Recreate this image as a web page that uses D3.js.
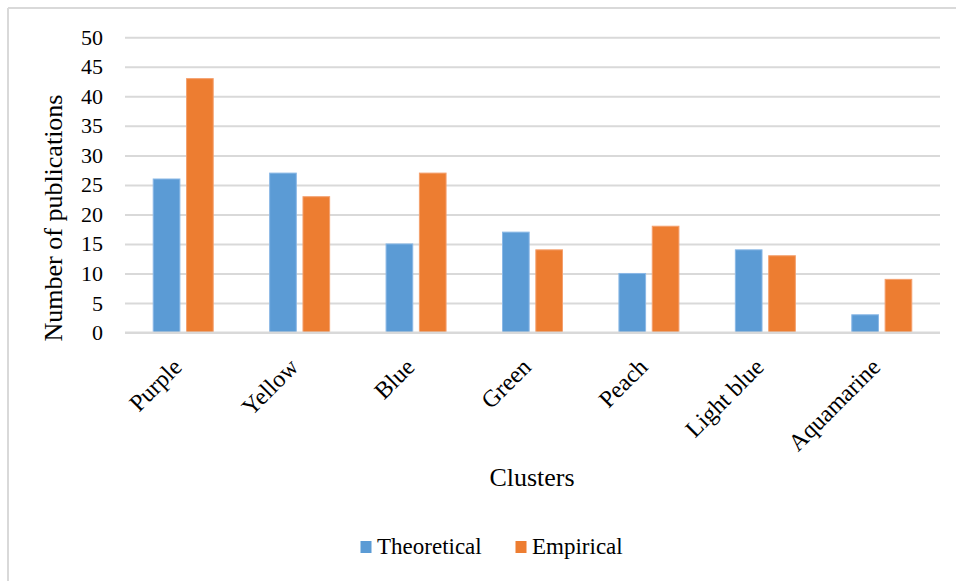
<!DOCTYPE html>
<html>
<head>
<meta charset="utf-8">
<script src="https://cdn.jsdelivr.net/npm/d3@7"></script>
<style>
  html, body { margin: 0; padding: 0; background: #fff; }
  svg { display: block; }
  text { font-family: "Liberation Serif", "Times New Roman", serif; fill: #000; }
</style>
</head>
<body>
<svg id="chart" width="956" height="581"></svg>
<script>
// Publications per cluster, split by study type
const clusters = ["Purple", "Yellow", "Blue", "Green", "Peach", "Light blue", "Aquamarine"];
const seriesNames = ["Theoretical", "Empirical"];
const theoretical = [26, 27, 15, 17, 10, 14, 3];
const empirical = [43, 23, 27, 14, 18, 13, 9];
const yTicks = [0, 5, 10, 15, 20, 25, 30, 35, 40, 45, 50];
const seriesColors = ["#5b9bd5", "#ed7d31"];
const seriesStroke = ["#8ab8e6", "#f4a06e"];

const svg = d3.select("#chart");

// Outer frame (top and left edges)
svg.append("line").attr("x1", 8).attr("x2", 956).attr("y1", 8).attr("y2", 8)
  .attr("stroke", "#d9d9d9").attr("stroke-width", 2);
svg.append("line").attr("x1", 8).attr("x2", 8).attr("y1", 8).attr("y2", 581)
  .attr("stroke", "#d9d9d9").attr("stroke-width", 2);

const plot = { left: 125, right: 940, top: 37.3, bottom: 332.5 };

const x = d3.scaleBand().domain(clusters).range([plot.left, plot.right]).padding(0);
const bw = x.bandwidth();
const xInner = d3.scaleBand().domain(seriesNames)
  .range([bw / 2 - 30, bw / 2 + 30]).paddingInner(0.2);
const y = d3.scaleLinear().domain([0, 50]).range([plot.bottom, plot.top]);

// Horizontal gridlines
const yAxis = d3.axisLeft(y).tickValues(yTicks).tickSize(-(plot.right - plot.left)).tickPadding(22);
const gy = svg.append("g").attr("transform", `translate(${plot.left},0)`).call(yAxis);
gy.select(".domain").remove();
gy.selectAll(".tick line").attr("stroke", "#d9d9d9").attr("stroke-width", 2);
gy.selectAll(".tick text")
  .attr("font-family", "Liberation Serif")
  .attr("font-size", 22)
  .attr("fill", "#000");

// Bars
const rows = clusters.map((c, i) => ({ cluster: c, values: [theoretical[i], empirical[i]] }));
const groups = svg.append("g").selectAll("g").data(rows).join("g")
  .attr("transform", d => `translate(${x(d.cluster)},0)`);
groups.selectAll("rect")
  .data(d => d.values.map((v, k) => ({ key: seriesNames[k], k, v })))
  .join("rect")
  .attr("x", d => xInner(d.key))
  .attr("width", xInner.bandwidth())
  .attr("y", d => y(d.v))
  .attr("height", d => y(0) - y(d.v))
  .attr("fill", d => seriesColors[d.k])
  .attr("stroke", d => seriesStroke[d.k])
  .attr("stroke-width", 1);

// Baseline
svg.append("line").attr("x1", plot.left).attr("x2", plot.right)
  .attr("y1", y(0)).attr("y2", y(0)).attr("stroke", "#d9d9d9").attr("stroke-width", 2);

// Category labels, rotated
const xAxis = d3.axisBottom(x).tickSize(0).tickPadding(0);
const gx = svg.append("g").attr("transform", `translate(0,${plot.bottom})`).call(xAxis);
gx.select(".domain").remove();
gx.selectAll(".tick text")
  .attr("font-family", "Liberation Serif")
  .attr("font-size", 24)
  .attr("fill", "#000")
  .attr("text-anchor", "end")
  .attr("dy", null)
  .attr("y", null)
  .attr("transform", "translate(0,36) rotate(-45)")
  .attr("dominant-baseline", "auto");

// Axis titles
svg.append("text")
  .attr("x", 532).attr("y", 486)
  .attr("text-anchor", "middle")
  .attr("font-size", 26)
  .text("Clusters");
svg.append("text")
  .attr("transform", "translate(62,218) rotate(-90)")
  .attr("text-anchor", "middle")
  .attr("font-size", 26)
  .text("Number of publications");

// Legend
const legend = svg.append("g");
const legendItems = [
  { name: seriesNames[0], sx: 360.5, tx: 377 },
  { name: seriesNames[1], sx: 515.5, tx: 532 }
];
legendItems.forEach((d, k) => {
  legend.append("rect").attr("x", d.sx).attr("y", 541).attr("width", 11).attr("height", 12)
    .attr("fill", seriesColors[k]);
  legend.append("text").attr("x", d.tx).attr("y", 553.5).attr("font-size", 23).text(d.name);
});
</script>
</body>
</html>
